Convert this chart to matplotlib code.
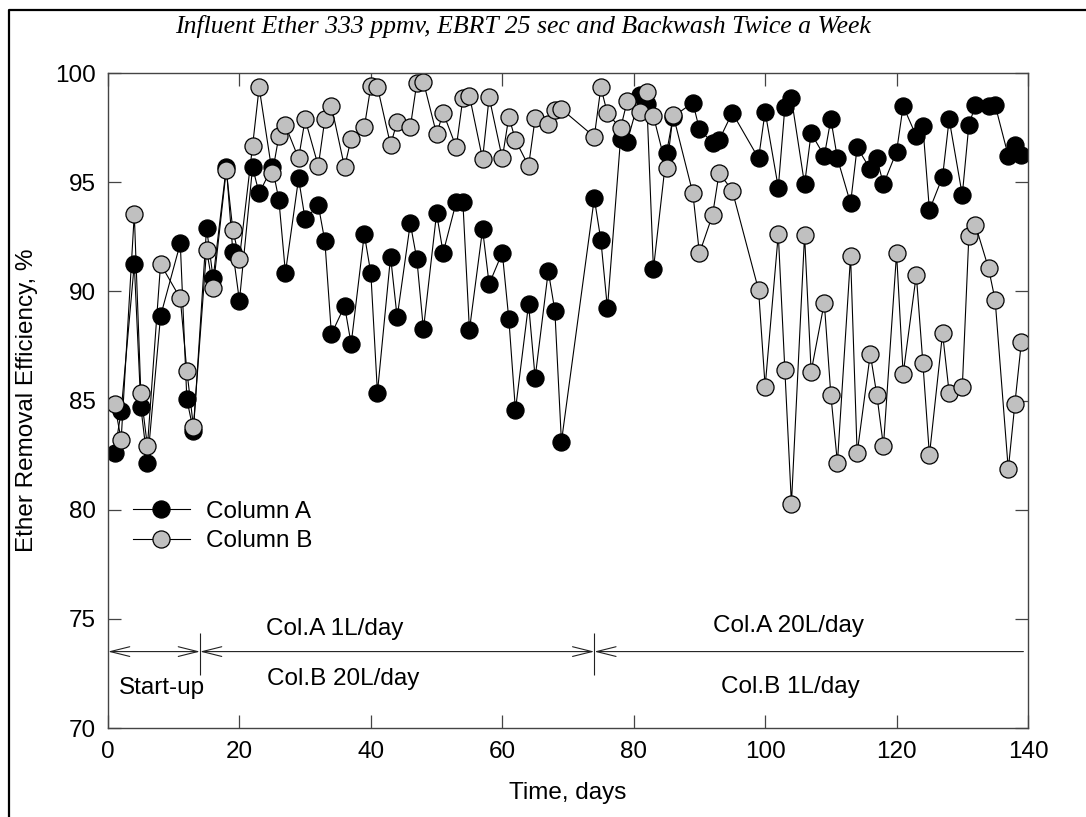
import matplotlib
matplotlib.use("Agg")
import matplotlib.pyplot as plt
from matplotlib.lines import Line2D

plt.rcParams['font.family'] = ['Liberation Sans', 'DejaVu Sans']

days = [1, 2, 4, 5, 6, 8, 11, 12, 13, 15, 16, 18, 19, 20, 22, 23, 25, 26, 27,
        29, 30, 32, 33, 34, 36, 37, 39, 40, 41, 43, 44, 46, 47, 48, 50, 51, 53,
        54, 55, 57, 58, 60, 61, 62, 64, 65, 67, 68, 69, 74, 75, 76, 78, 79, 81,
        82, 83, 85, 86, 89, 90, 92, 93, 95, 99, 100, 102, 103, 104, 106, 107,
        109, 110, 111, 113, 114, 116, 117, 118, 120, 121, 123, 124, 125, 127,
        128, 130, 131, 132, 134, 135, 137, 138, 139]

column_a = [82.6, 84.5, 91.25, 84.7, 82.15, 88.87,
            92.2, 85.05, 83.6,
            92.9, 90.6, 95.7, 91.8, 89.57,
            95.68, 94.49, 95.7, 94.2, 90.85,
            95.17, 93.3, 93.95, 92.3, 88.04,
            89.33, 87.59, 92.62, 90.82, 85.36,
            91.59, 88.81, 93.11, 91.47, 88.26,
            93.57, 91.77, 94.1, 94.1, 88.23,
            92.84, 90.33, 91.77, 88.72, 84.56,
            89.42, 86.04, 90.93, 89.11, 83.11,
            94.26, 92.35, 89.22, 97.0, 96.85,
            99.0, 98.6, 91.02, 96.35, 98.0,
            98.64, 97.42, 96.8, 96.93, 98.18,
            96.09, 98.23, 94.75, 98.43, 98.84,
            94.9, 97.24, 96.2, 97.88, 96.09,
            94.03, 96.6, 95.59, 96.09, 94.9,
            96.4, 98.49, 97.11, 97.57, 93.72,
            95.25, 97.88, 94.41, 97.62, 98.53,
            98.49, 98.53, 96.2, 96.7, 96.24]

column_b = [84.84, 83.2, 93.54, 85.33, 82.9, 91.25,
            89.68, 86.36, 83.8,
            91.9, 90.14, 95.56, 92.8, 91.5,
            96.66, 99.34, 95.4, 97.1, 97.6,
            96.09, 97.88, 95.74, 97.88, 98.49,
            95.68, 97.0, 97.51, 99.4, 99.37,
            96.7, 97.77, 97.51, 99.56, 99.6,
            97.2, 98.18, 96.6, 98.84, 98.96,
            96.06, 98.89, 96.09, 98.0, 96.93,
            95.74, 97.92, 97.66, 98.3, 98.35,
            97.08, 99.34, 98.15, 97.47, 98.7,
            98.23, 99.13, 98.03, 95.63, 98.08,
            94.49, 91.74, 93.5, 95.43, 94.61,
            90.06, 85.63, 92.62, 86.4, 80.26,
            92.58, 86.32, 89.48, 85.25, 82.15,
            91.62, 82.58, 87.13, 85.25, 82.91,
            91.74, 86.21, 90.75, 86.73, 82.5,
            88.08, 85.36, 85.6, 92.53, 93.04,
            91.05, 89.6, 81.84, 84.84, 87.7]

x_ticks = [0, 20, 40, 60, 80, 100, 120, 140]
y_ticks = [70, 75, 80, 85, 90, 95, 100]
phase_bounds = [0, 14, 74, 139.3]

title = "Influent Ether 333 ppmv, EBRT 25 sec and Backwash Twice a Week"

W, H = 1086, 817
fig = plt.figure(figsize=(W / 100, H / 100), dpi=100)
ax = fig.add_axes([108 / W, 1 - 728 / H, 920 / W, 655 / H])

spine_col = '#444444'
fs = 17.5

ax.plot(days, column_a, '-o', color='black', lw=0.8, markersize=12.3,
        markerfacecolor='black', markeredgecolor='black', markeredgewidth=0.9,
        label='Column A')
ax.plot(days, column_b, '-o', color='black', lw=0.8, markersize=12.3,
        markerfacecolor='#c0c0c0', markeredgecolor='black', markeredgewidth=0.9,
        label='Column B')

ax.set_xlim(0, 140)
ax.set_ylim(70, 100)
ax.set_xticks(x_ticks)
ax.set_yticks(y_ticks)
ax.tick_params(direction='in', length=9.5, width=0.9, color=spine_col,
               labelsize=fs, top=True, right=True)
ax.tick_params(axis='x', pad=9)
ax.tick_params(axis='y', pad=9)
for s in ax.spines.values():
    s.set_color(spine_col)
    s.set_linewidth(1.0)

ax.set_xlabel('Time, days', fontsize=fs, labelpad=14)
ax.set_ylabel('Ether Removal Efficiency, %', fontsize=fs, labelpad=12)

leg = ax.legend(loc='upper left', bbox_to_anchor=(0.027, 0.347), frameon=False,
                fontsize=fs, handlelength=2.35, handletextpad=0.65,
                borderpad=0, borderaxespad=0, labelspacing=0.3)

# phase annotations
yarr = 73.5
ap = dict(lw=0.8, color='#222222', shrinkA=0, shrinkB=0)
ax.annotate('', xy=(phase_bounds[1], yarr), xytext=(phase_bounds[0], yarr),
            arrowprops=dict(arrowstyle='<->,head_length=1.4,head_width=0.35', **ap))
ax.annotate('', xy=(phase_bounds[2], yarr), xytext=(phase_bounds[1], yarr),
            arrowprops=dict(arrowstyle='<->,head_length=1.4,head_width=0.35', **ap))
ax.annotate('', xy=(phase_bounds[3], yarr), xytext=(phase_bounds[2], yarr),
            arrowprops=dict(arrowstyle='<-,head_length=1.4,head_width=0.35', **ap))
ax.vlines([phase_bounds[1], phase_bounds[2]], 72.45, 74.35, color='#222222', lw=0.8)

ax.text(8.2, 71.83, 'Start-up', ha='center', va='center', fontsize=fs)
ax.text(34.5, 74.55, 'Col.A 1L/day', ha='center', va='center', fontsize=fs)
ax.text(35.8, 72.24, 'Col.B 20L/day', ha='center', va='center', fontsize=fs)
ax.text(103.6, 74.67, 'Col.A 20L/day', ha='center', va='center', fontsize=fs)
ax.text(103.8, 71.9, 'Col.B 1L/day', ha='center', va='center', fontsize=fs)

fig.text(523 / W, 1 - 27 / H, title, ha='center', va='center',
         fontsize=18.5, style='italic', family=['Liberation Serif', 'DejaVu Serif'])

# figure frame (left and top edges visible)
fx, fy = 9 / W, 1 - 10 / H
fig.add_artist(Line2D([fx, fx, 1.0], [0.0, fy, fy], transform=fig.transFigure,
                      color='black', lw=1.6))

fig.savefig('out.png', dpi=100)
